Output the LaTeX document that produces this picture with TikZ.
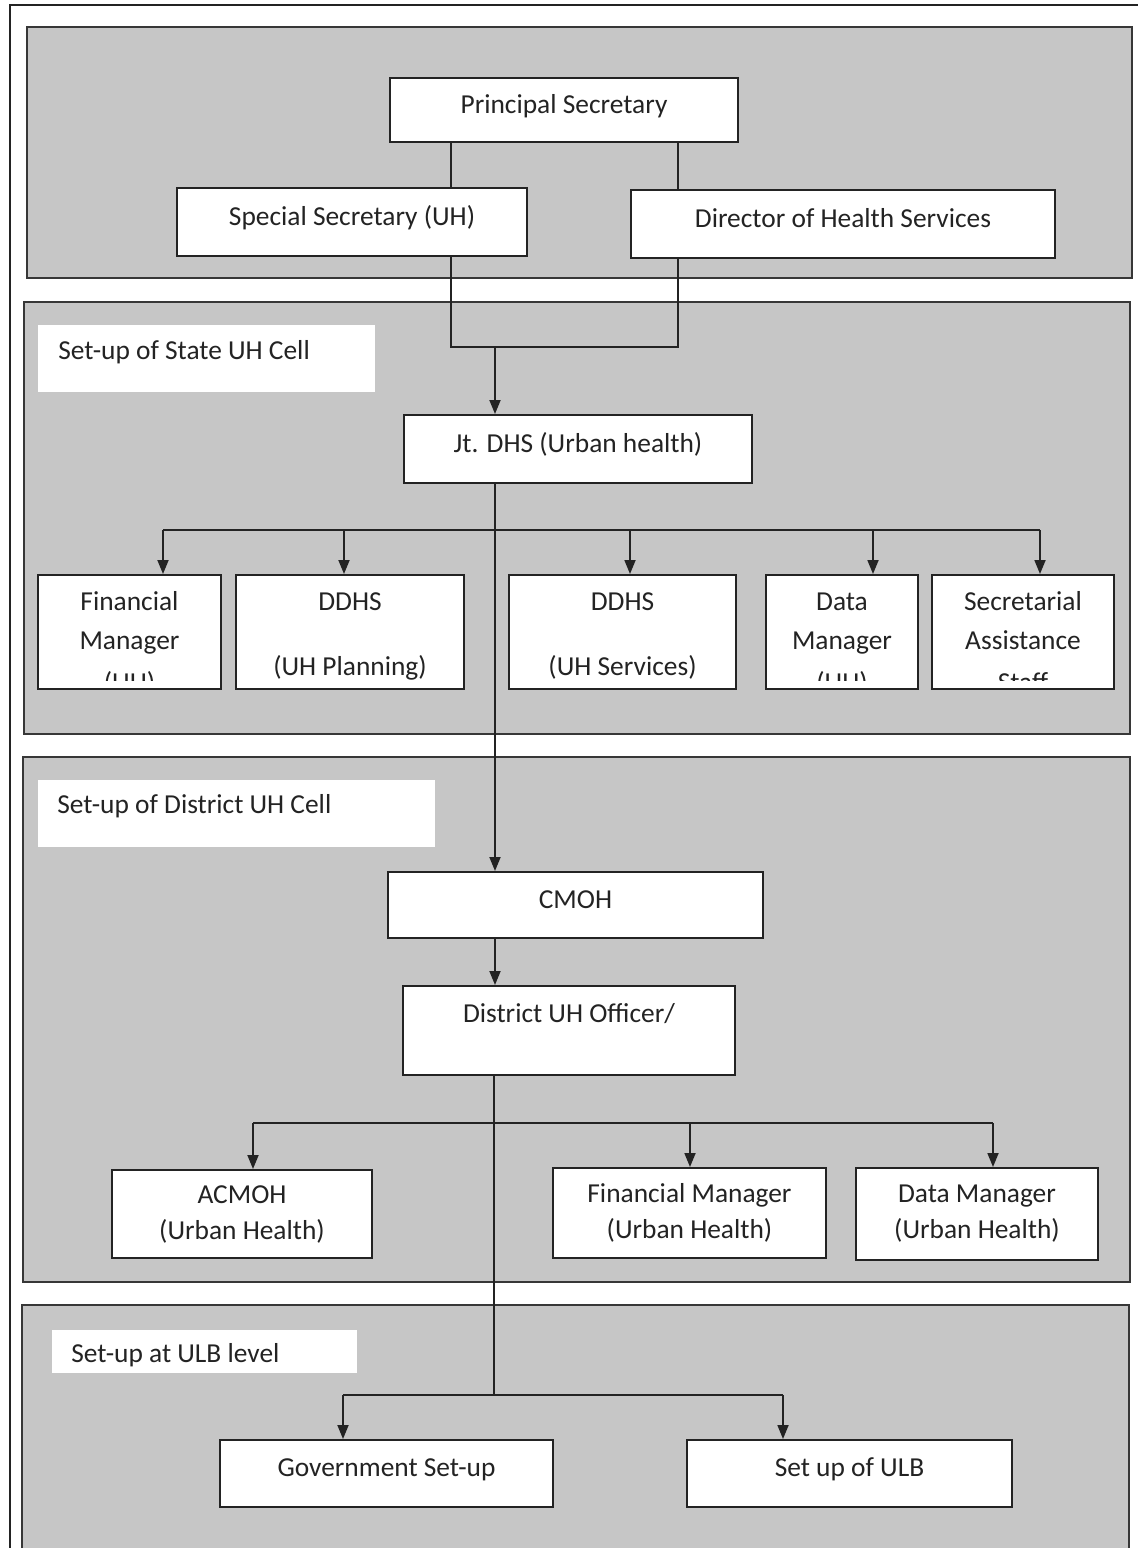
\documentclass[tikz,border=0pt]{standalone}
\usepackage{fontspec}
\setmainfont{Carlito}
\usetikzlibrary{arrows.meta}
\definecolor{ink}{RGB}{35,35,35}
\definecolor{edge}{RGB}{55,55,55}
\definecolor{panelgray}{RGB}{198,198,198}
\newcommand\diafont{\fontsize{13.7pt}{18pt}\selectfont}
\begin{document}
\begin{tikzpicture}[x=0.5pt,y=-0.5pt,
  box/.style={draw=ink, line width=1pt, fill=white, inner sep=0pt, text=ink, font=\diafont, align=center},
  one/.style={text height=10pt, text depth=7pt},
  txt/.style={text=ink, font=\diafont, inner sep=0pt, text height=10pt, text depth=3pt},
  panel/.style={draw=edge, line width=1pt, fill=panelgray},
  conn/.style={draw=ink, line width=0.9pt},
  arr/.style={conn, -{Triangle[length=7pt,width=5.5pt]}}
]
\useasboundingbox (0,0) rectangle (1138,1548);
\fill[white] (0,0) rectangle (1138,1548);

% outer frame
\draw[line width=1pt, draw=ink] (10,1548) -- (10,5) -- (1138,5);

% panels
\draw[panel] (27,27) rectangle (1132,278);
\draw[panel] (24,302) rectangle (1130,734);
\draw[panel] (23,757) rectangle (1130,1282);
\path[panel] (22,1549) -- (22,1305) -- (1129,1305) -- (1129,1549);

% panel labels
\fill[white] (38,325) rectangle (375,392);
\node[txt, anchor=west] (lab1) at (58,352) {Set-up of State UH Cell};
\fill[white] (38,780) rectangle (435,847);
\node[txt, anchor=west] (lab2) at (57,806) {Set-up of District UH Cell};
\fill[white] (52,1330) rectangle (357,1373);
\node[txt, anchor=west] (lab3) at (71,1355) {Set-up at ULB level};

% top level
\node[box, one, minimum width=174pt, minimum height=32pt] (ps) at (564,110) {Principal Secretary};
\node[box, one, minimum width=175pt, minimum height=34pt] (ss) at (352,222) {Special Secretary (UH)};
\node[box, one, minimum width=212pt, minimum height=34pt] (dhs) at (843,224) {Director of Health Services};
\node[box, one, minimum width=174pt, minimum height=34pt] (jt) at (578,449) {Jt. DHS (Urban health)};

% state cell row
\node[box, minimum width=91.5pt, minimum height=57pt] (fm) at (129.5,632) {};
\node[box, minimum width=114pt, minimum height=57pt] (dp) at (350,632) {};
\node[box, minimum width=113.5pt, minimum height=57pt] (ds) at (622.5,632) {};
\node[box, minimum width=76pt, minimum height=57pt] (dm) at (842,632) {};
\node[box, minimum width=91pt, minimum height=57pt] (sa) at (1023,632) {};

\begin{scope}
\clip (fm.north west) rectangle ([yshift=5pt]fm.south east);
\node[txt] (fm1) at (129.5,603) {Financial};
\node[txt] (fm2) at (129.5,642) {Manager};
\node[txt] (fm3) at (129.5,684) {(UH)};
\end{scope}
\node[txt] (dp1) at (350,603) {DDHS};
\node[txt] (dp2) at (350,668) {(UH Planning)};
\node[txt] (ds1) at (622.5,603) {DDHS};
\node[txt] (ds2) at (622.5,668) {(UH Services)};
\begin{scope}
\clip (dm.north west) rectangle ([yshift=5pt]dm.south east);
\node[txt] (dm1) at (842,603) {Data};
\node[txt] (dm2) at (842,642) {Manager};
\node[txt] (dm3) at (842,684) {(UH)};
\end{scope}
\begin{scope}
\clip (sa.north west) rectangle ([yshift=5pt]sa.south east);
\node[txt] (sa1) at (1023,603) {Secretarial};
\node[txt] (sa2) at (1023,642) {Assistance};
\node[txt] (sa3) at (1023,684) {Staff};
\end{scope}

% district cell
\node[box, one, minimum width=187.5pt, minimum height=33pt] (cmoh) at (575.5,905) {CMOH};
\node[box, minimum width=166pt, minimum height=44.5pt] (duho) at (569,1030.5) {District UH Officer/\\\mbox{}};
\node[box, minimum width=130pt, minimum height=44pt] (acmoh) at (242,1214) {ACMOH\\(Urban Health)};
\node[box, minimum width=136.5pt, minimum height=45pt] (fmu) at (689.5,1213) {Financial Manager\\(Urban Health)};
\node[box, minimum width=121pt, minimum height=46pt] (dmu) at (977,1214) {Data Manager\\(Urban Health)};

% ULB level
\node[box, one, minimum width=166.5pt, minimum height=33.5pt] (gov) at (386.5,1473.5) {Government Set-up};
\node[box, one, minimum width=162.5pt, minimum height=33.5pt] (ulb) at (849.5,1473.5) {Set up of ULB};

% connectors: top
\coordinate (hL) at (451,347);
\coordinate (hR) at (678,347);
\coordinate (hM) at (495,347);
\draw[conn] (ps.south -| hL) -- (ss.north -| hL);
\draw[conn] (ps.south -| hR) -- (dhs.north -| hR);
\draw[conn] (ss.south -| hL) -- (hL) -- (hR) -- (dhs.south -| hR);
\draw[arr] (hM) -- (jt.north -| hM);
\draw[arr] (jt.south -| hM) -- (cmoh.north -| hM);

% bus 1
\coordinate (b1a) at (163,530);
\coordinate (b1b) at (344,530);
\coordinate (b1c) at (630,530);
\coordinate (b1d) at (873,530);
\coordinate (b1e) at (1040,530);
\draw[conn] (b1a) -- (b1e);
\draw[arr] (b1a) -- (fm.north -| b1a);
\draw[arr] (b1b) -- (dp.north -| b1b);
\draw[arr] (b1c) -- (ds.north -| b1c);
\draw[arr] (b1d) -- (dm.north -| b1d);
\draw[arr] (b1e) -- (sa.north -| b1e);

% district
\draw[arr] (cmoh.south -| hM) -- (duho.north -| hM);
\coordinate (u0) at (494,1395);
\draw[conn] (duho.south -| u0) -- (u0);
\coordinate (b2a) at (253,1123);
\coordinate (b2b) at (690,1123);
\coordinate (b2c) at (993,1123);
\draw[conn] (b2a) -- (b2c);
\draw[arr] (b2a) -- (acmoh.north -| b2a);
\draw[arr] (b2b) -- (fmu.north -| b2b);
\draw[arr] (b2c) -- (dmu.north -| b2c);

% ULB bus
\coordinate (b3a) at (343,1395);
\coordinate (b3b) at (783,1395);
\draw[conn] (b3a) -- (b3b);
\draw[arr] (b3a) -- (gov.north -| b3a);
\draw[arr] (b3b) -- (ulb.north -| b3b);
\end{tikzpicture}
\end{document}
